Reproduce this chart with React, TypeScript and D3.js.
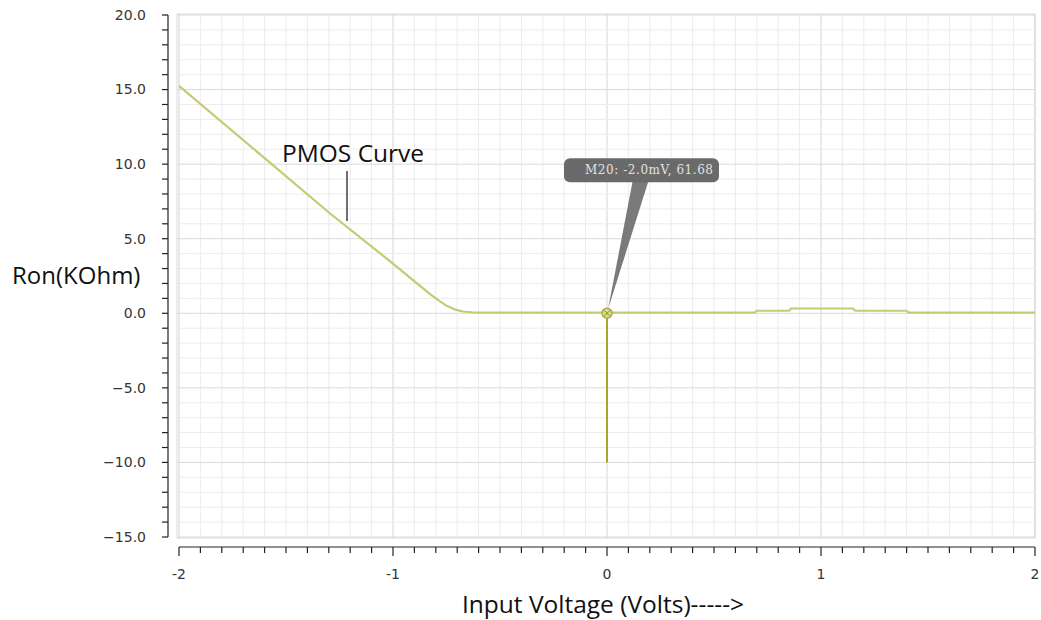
import React, { useEffect, useRef } from 'react';
import * as d3 from 'd3';

// PMOS on-resistance vs input voltage
const voltage = [-2, -1.6, -1.294, -1.006, -0.827, -0.78, -0.749, -0.71, -0.673, -0.63, -0.593, 0.69, 0.7, 0.85, 0.86, 1.15, 1.16, 1.4, 1.41, 2];
const ron = [15.25, 10.4, 6.69, 3.4, 1.29, 0.8, 0.5, 0.25, 0.12, 0.07, 0.05, 0.05, 0.17, 0.17, 0.32, 0.32, 0.17, 0.17, 0.05, 0.05];

// marker drop line at 0 V
const markerV = 0;
const markerTop = 0;
const markerBottom = -10;
const markerText = 'M20: -2.0mV, 61.68';

const xTicks = [-2, -1, 0, 1, 2];
const yTicks = [20, 15, 10, 5, 0, -5, -10, -15];

const App = () => {
    const svgRef = useRef();
    const width = 1041;
    const height = 620;

    useEffect(() => {
        const svg = d3.select(svgRef.current);
        svg.selectAll('*').remove();

        const xScale = d3.scaleLinear().domain([-2, 2]).range([179, 1035]);
        const yScale = d3.scaleLinear().domain([-15, 20]).range([537, 15]);

        // grid
        const grid = svg.append('g');
        grid.append('rect')
            .attr('x', 177).attr('y', 14)
            .attr('width', 858).attr('height', 524)
            .attr('fill', '#fff').attr('stroke', '#dcdcdc');
        d3.range(-20, 21).forEach(i => {
            const v = i / 10;
            grid.append('line')
                .attr('x1', xScale(v)).attr('x2', xScale(v))
                .attr('y1', 14).attr('y2', 538)
                .attr('stroke', i % 10 === 0 ? '#d4d4d4' : '#ececec')
                .attr('stroke-width', 1);
        });
        d3.range(-15, 21).forEach(v => {
            grid.append('line')
                .attr('x1', 177).attr('x2', 1035)
                .attr('y1', yScale(v)).attr('y2', yScale(v))
                .attr('stroke', v % 5 === 0 ? '#dadada' : '#ececec')
                .attr('stroke-width', 1);
        });

        // y axis
        const yAxis = svg.append('g');
        yAxis.append('line')
            .attr('x1', 168).attr('x2', 168)
            .attr('y1', yScale(20)).attr('y2', yScale(-15))
            .attr('stroke', '#222').attr('stroke-width', 1.2);
        d3.range(-15, 21).forEach(v => {
            yAxis.append('line')
                .attr('x1', 162).attr('x2', 168)
                .attr('y1', yScale(v)).attr('y2', yScale(v))
                .attr('stroke', '#222').attr('stroke-width', 1.2);
        });
        yTicks.forEach(v => {
            yAxis.append('text')
                .attr('x', 146).attr('y', yScale(v))
                .attr('dy', '0.35em')
                .attr('text-anchor', 'end')
                .attr('font-family', 'DejaVu Sans')
                .attr('font-size', 14)
                .attr('fill', '#333')
                .text(d3.format('.1f')(v));
        });

        // x axis
        const xAxis = svg.append('g');
        xAxis.append('line')
            .attr('x1', xScale(-2)).attr('x2', xScale(2))
            .attr('y1', 547).attr('y2', 547)
            .attr('stroke', '#222').attr('stroke-width', 1.2);
        d3.range(-20, 21).forEach(i => {
            xAxis.append('line')
                .attr('x1', xScale(i / 10)).attr('x2', xScale(i / 10))
                .attr('y1', 547).attr('y2', i % 10 === 0 ? 556 : 553)
                .attr('stroke', '#222').attr('stroke-width', 1.2);
        });
        xTicks.forEach(v => {
            xAxis.append('text')
                .attr('x', xScale(v)).attr('y', 579)
                .attr('text-anchor', 'middle')
                .attr('font-family', 'DejaVu Sans')
                .attr('font-size', 14)
                .attr('fill', '#333')
                .text(v);
        });

        // curve
        const line = d3.line()
            .x((d, i) => xScale(voltage[i]))
            .y(d => yScale(d));
        svg.append('path')
            .datum(ron)
            .attr('fill', 'none')
            .attr('stroke', '#c6ca74')
            .attr('stroke-width', 2.2)
            .attr('stroke-linejoin', 'round')
            .attr('d', line);

        // marker
        const mx = xScale(markerV);
        const my = yScale(markerTop);
        svg.append('line')
            .attr('x1', mx).attr('x2', mx)
            .attr('y1', my).attr('y2', yScale(markerBottom))
            .attr('stroke', '#a8a828').attr('stroke-width', 2);
        svg.append('circle')
            .attr('cx', mx).attr('cy', my).attr('r', 5)
            .attr('fill', '#d8dc90').attr('stroke', '#a8ac40').attr('stroke-width', 1.5);
        svg.append('path')
            .attr('d', `M${mx - 3},${my - 3}L${mx + 3},${my + 3}M${mx - 3},${my + 3}L${mx + 3},${my - 3}`)
            .attr('stroke', '#8a8c30').attr('stroke-width', 1);

        // tooltip
        svg.append('path')
            .attr('d', `M${mx + 1},${my - 4}L${mx + 26},${my - 134}L${mx + 42},${my - 134}Z`)
            .attr('fill', '#7a7a7a');
        svg.append('rect')
            .attr('x', mx - 43).attr('y', my - 155)
            .attr('width', 155).attr('height', 24)
            .attr('rx', 6)
            .attr('fill', '#6a6a6a');
        svg.append('text')
            .attr('x', mx - 22).attr('y', my - 139)
            .attr('font-family', 'DejaVu Serif')
            .attr('font-size', 12)
            .attr('fill', '#e2e2e2')
            .attr('textLength', 128)
            .text(markerText);

        // annotation
        svg.append('text')
            .attr('x', 282).attr('y', 162)
            .attr('font-family', 'Open Sans')
            .attr('font-size', 24.5)
            .attr('fill', '#111')
            .text('PMOS Curve');
        svg.append('line')
            .attr('x1', 347).attr('x2', 347)
            .attr('y1', 171).attr('y2', 221)
            .attr('stroke', '#111').attr('stroke-width', 1.2);

        // axis titles
        svg.append('text')
            .attr('x', 12).attr('y', 284)
            .attr('font-family', 'Open Sans')
            .attr('font-size', 24)
            .attr('fill', '#111')
            .text('Ron(KOhm)');
        svg.append('text')
            .attr('x', 603).attr('y', 613)
            .attr('text-anchor', 'middle')
            .attr('font-family', 'Open Sans')
            .attr('font-size', 24.5)
            .attr('fill', '#111')
            .text('Input Voltage (Volts)----->');
    }, []);

    return (
        <svg ref={svgRef} width={width} height={height}
            style={{ position: 'absolute', left: 0, top: 0, background: '#fff' }} />
    );
};

export default App;
